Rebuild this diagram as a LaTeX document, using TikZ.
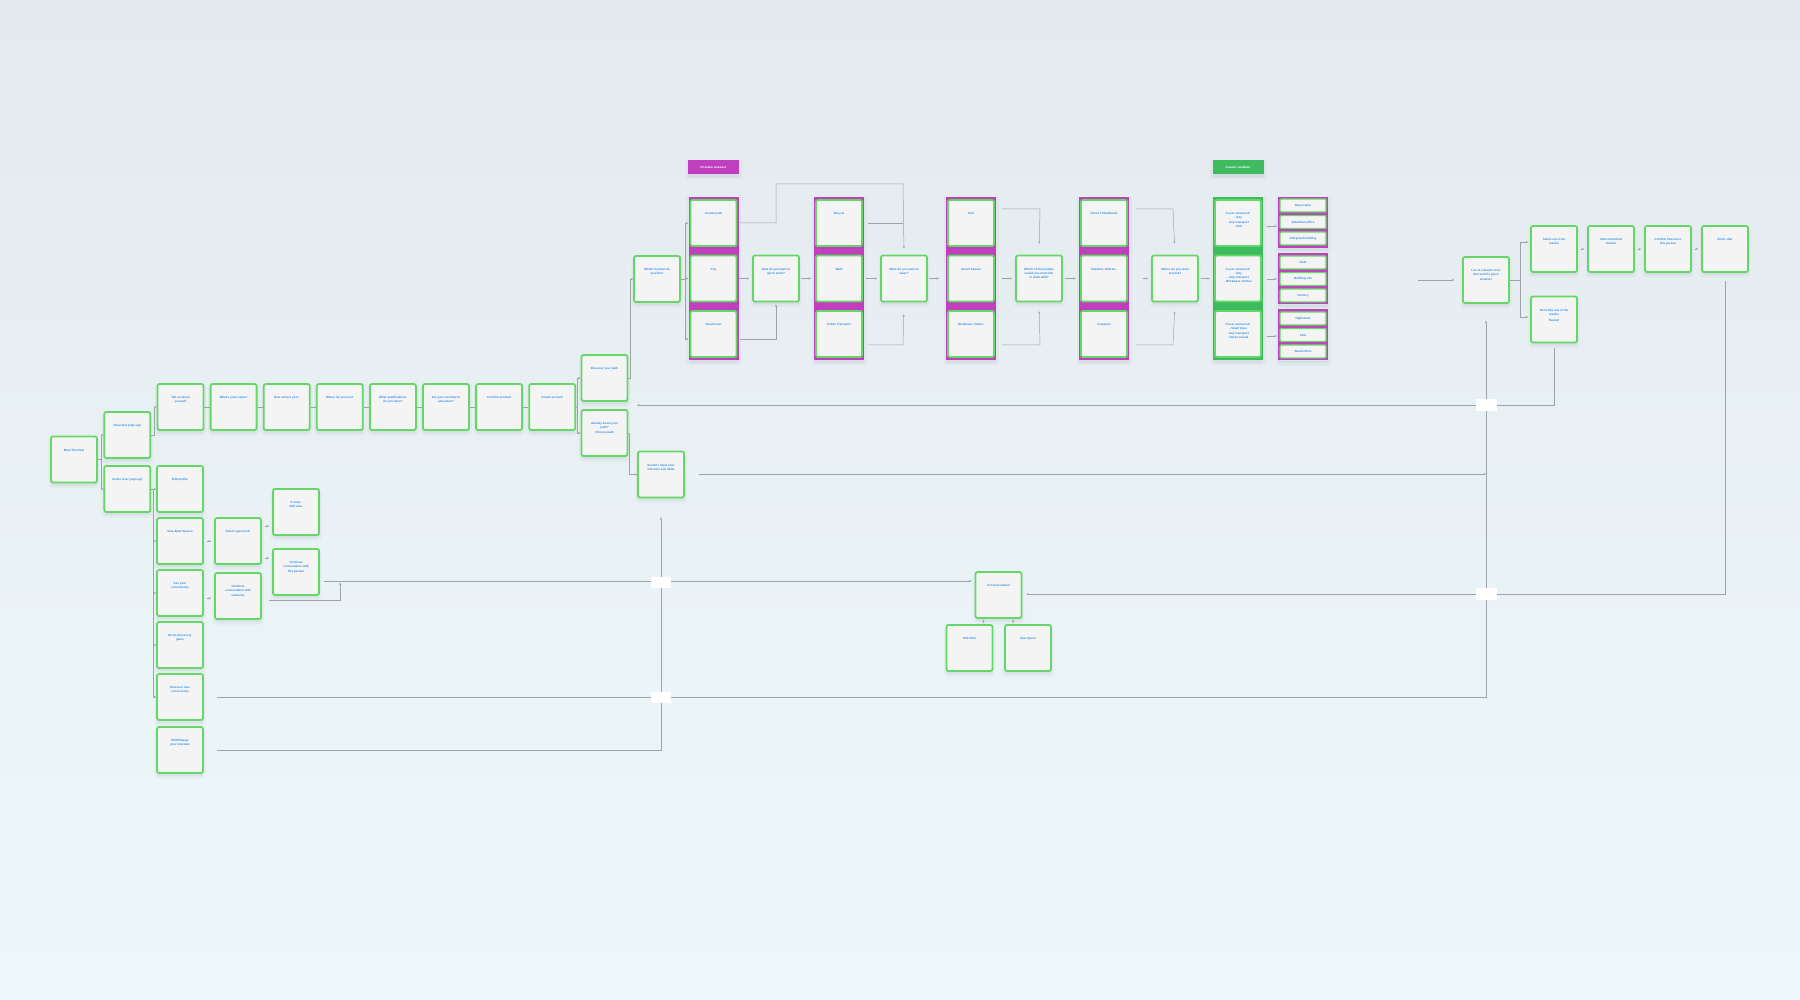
\documentclass[tikz,border=0pt]{standalone}
\usepackage{fontspec}
\setmainfont{Liberation Sans}
\usetikzlibrary{arrows.meta}
\definecolor{bgtop}{HTML}{E3EAEE}
\definecolor{bgbot}{HTML}{EEF8FA}
\definecolor{bgreen}{HTML}{64D864}
\definecolor{boxfill}{HTML}{F4F4F4}
\definecolor{tblue}{HTML}{2E8DE4}
\definecolor{mag}{HTML}{BF3FBF}
\definecolor{vgreen}{HTML}{3DBB5E}
\definecolor{lncol}{HTML}{9EA3A8}
\definecolor{shcol}{HTML}{5A6A7A}
\tikzset{
 shd/.style={preaction={draw=shcol, line width=5pt, draw opacity=0.05, fill=shcol, fill opacity=0.07,
   transform canvas={yshift=-3pt}}},
 bxbase/.style={rectangle, rounded corners=2pt, draw=bgreen, line width=1.8pt, fill=boxfill,
   minimum width=46pt, minimum height=46pt, inner sep=0pt, text=tblue,
   font=\fontsize{3}{4.2}\selectfont\bfseries},
 bx/.style={bxbase, shd},
 sbx/.style={bxbase, minimum height=13pt, rounded corners=1pt, line width=1.4pt},
 cont/.style={rectangle, inner sep=0pt, minimum width=50pt, shd},
 lnk/.style={draw=lncol, line width=0.5pt},
 arr/.style={lnk, -{Stealth[length=2.4pt,width=2.2pt]}},
 gapbox/.style={fill=white, minimum width=20pt, minimum height=11pt, inner sep=0pt},
 tagbox/.style={rectangle, inner sep=0pt, minimum width=51pt, minimum height=14pt, text=white,
   font=\fontsize{3}{4}\selectfont\bfseries, shd}
}
\newcommand\bxtext[1]{\parbox[c][44pt][t]{40pt}{\vspace*{11.5pt}\centering #1\par}}
\newcommand\mkbox[4]{\node[bx] (#1) at (#2,#3) {\bxtext{#4}};}
\newcommand\mkboxi[4]{\node[bxbase] (#1) at (#2,#3) {\bxtext{#4}};}
\begin{document}
\begin{tikzpicture}[x=1pt,y=-1pt]
\shade[top color=bgtop, bottom color=bgbot] (0,0) rectangle (1800,1000);

% ---------- left / sign up ----------
\mkbox{meet}{74}{459.5}{Meet The Beat}
\mkbox{newu}{127.3}{435}{New User (sign up)}
\mkbox{actu}{127.3}{489}{Active User (sign up)}
\mkbox{tell}{180.5}{407}{Tell us about\\yourself}
\mkbox{name}{233.6}{407}{What's your name?}
\mkbox{old}{286.7}{407}{How old are you?}
\mkbox{live}{339.8}{407}{Where do you live?}
\mkbox{qual}{392.9}{407}{What qualifications\\do you have?}
\mkbox{edu}{446}{407}{Are you currently in\\education?}
\mkbox{conf}{499.1}{407}{Confirm account}
\mkbox{create}{552.2}{407}{Create account}
\mkbox{disc}{604.5}{378}{Discover your path}
\mkbox{know}{604.5}{433}{Already know your\\path?\\Choose path}
\mkbox{search}{661}{474.5}{Search / input your\\interests and skills}

\mkbox{editp}{180}{489}{Edit profile}
\mkbox{view}{180}{541}{View Beat Spaces}
\mkbox{see}{180}{593}{See your\\connections}
\mkbox{redo}{180}{645}{Re-do discovery\\game}
\mkbox{discn}{180}{697}{Discover new\\connections}
\mkbox{editc}{180}{750}{Edit/Change\\your interests}
\mkbox{space}{238}{541}{Select space/role}
\mkbox{cont1}{238}{596}{Continue\\conversation with\\someone}
\mkbox{ifnone}{296}{512}{If none:\\Edit area}
\mkbox{cont2}{296}{572}{Continue\\conversation with\\this person}

\mkbox{inconv}{998.5}{595}{In Conversation}
\mkbox{editrole}{969.5}{648}{Edit Role}
\mkbox{newq}{1028}{648}{New Quest}

% ---------- questionnaire ----------
\node[tagbox, fill=mag] (pa) at (713.5,167) {Possible Answers};
\node[tagbox, fill=vgreen] (av) at (1238,167) {Answer variables};

\mkbox{loc}{657}{279}{Which location do\\you like?}
\node[cont, fill=mag, minimum height=163pt] (c1) at (713.5,278.5) {};
\mkboxi{country}{713.5}{223}{Countryside}
\mkboxi{city}{713.5}{278.5}{City}
\mkboxi{town}{713.5}{334}{Small town}
\mkbox{how}{776}{278.5}{How do you want to\\get to work?}
\node[cont, fill=mag, minimum height=163pt] (c2) at (839,278.5) {};
\mkboxi{bike}{839}{223}{Bicycle}
\mkboxi{walk}{839}{278.5}{Walk}
\mkboxi{pt}{839}{334}{Public Transport}
\mkbox{wear}{904}{278.5}{What do you want to\\wear?}
\node[cont, fill=mag, minimum height=163pt] (c3) at (971,278.5) {};
\mkboxi{suit}{971}{223}{Suit}
\mkboxi{smart}{971}{278.5}{Smart Casual}
\mkboxi{work}{971}{334}{Workwear clothes}
\mkbox{tasks}{1039}{278.5}{Which of these tasks\\would you most like\\to work with?}
\node[cont, fill=mag, minimum height=163pt] (c4) at (1104,278.5) {};
\mkboxi{pencil}{1104}{223}{Pencil / Paintbrush}
\mkboxi{hammer}{1104}{278.5}{Hammer, Drill etc.}
\mkboxi{comp}{1104}{334}{Computer}
\mkbox{where}{1175}{278.5}{Where do you want\\to work?}
\node[cont, fill=vgreen, minimum height=163pt] (c5) at (1238,278.5) {};
\mkboxi{va}{1238}{223}{If user answered:\\- City\\- Any transport\\- Suit}
\mkboxi{vb}{1238}{278.5}{If user answered:\\- City\\- Any transport\\- Workwear clothes}
\mkboxi{vc}{1238}{334}{If user answered:\\- Small town\\- Any transport\\- Smart casual}

\node[cont, fill=mag, minimum height=51pt] (g1) at (1303,222.5) {};
\node[sbx] (sky) at (1303,205.5) {Skyscraper};
\node[sbx] (sub) at (1303,222) {Suburban office};
\node[sbx] (old2) at (1303,238.5) {Old grand building};
\node[cont, fill=mag, minimum height=51pt] (g2) at (1303,279) {};
\node[sbx] (field) at (1303,262.5) {Field};
\node[sbx] (bsite) at (1303,279) {Building site};
\node[sbx] (fact) at (1303,295.5) {Factory};
\node[cont, fill=mag, minimum height=51pt] (g3) at (1303,335) {};
\node[sbx] (high) at (1303,318.5) {Highstreet};
\node[sbx] (cafe) at (1303,335) {Cafe};
\node[sbx] (soff) at (1303,351.5) {Small office};

\mkbox{list}{1486}{280}{List of relevant roles\\that suit the given\\answers}
\mkbox{sel}{1554}{249}{Select one from\\results}
\mkbox{mentor}{1611}{249}{Select matched\\mentor}
\mkbox{interest}{1668}{249}{Confirm interest in\\this person}
\mkbox{chat}{1725}{249}{Enter chat}
\mkbox{dont}{1554}{319.5}{Don't like any of the\\results\\[2pt]Restart}

% ---------- connectors ----------
\draw[lnk] (meet.east) -- (101,459.5) coordinate (m1);
\draw[arr] (m1) |- (newu.west);
\draw[arr] (m1) |- (actu.west);
\draw[arr] (newu.east) -- (154,435) |- (tell.west);
\draw[lnk] (actu.east) -- (153.5,489) coordinate (tr);
\foreach \n in {editp,view,see,redo,discn} \draw[arr] (tr) |- (\n.west);
\foreach \a/\b in {tell/name,name/old,old/live,live/qual,qual/edu,edu/conf,conf/create}
  \draw[lnk] (\a.east) -- (\b.west);
\draw[lnk] (create.east) -- (577.5,407) coordinate (cr);
\draw[arr] (cr) |- (disc.west);
\draw[arr] (cr) |- (know.west);
\draw[arr] (disc.east) -- (630,378) |- (loc.west);
\draw[arr] (know.east) -- (629.5,433) |- (search.west);

\draw[lnk] (loc.east) -- (685,279) coordinate (lc);
\draw[arr] (lc) |- (c1.west |- 0,223);
\draw[arr] (lc) |- (c1.west |- 0,278.5);
\draw[arr] (lc) |- (c1.west |- 0,339);
\draw[arr, shorten <=1pt, shorten >=6pt] (c1.east |- 0,223) -- (776,223) -- (776,184) -- (903,184) -- (wear.north);
\draw[arr, shorten >=3pt] (c1.east |- 0,278.5) -- (how.west);
\draw[arr, shorten <=1pt, shorten >=2pt] (c1.east |- 0,339) -- (776,339) -- (how.south);
\draw[arr, shorten <=1pt, shorten >=3pt] (how.east) -- (c2.west |- 0,278.5);
\draw[lnk, shorten <=4pt] (c2.east |- 0,223) -- (903,223);
\draw[arr, shorten <=2pt, shorten >=3pt] (c2.east |- 0,278.5) -- (wear.west);
\draw[arr, shorten <=4pt, shorten >=12pt] (c2.east |- 0,345) -- (903,345) -- (wear.south);
\draw[arr, shorten <=1pt, shorten >=7pt] (wear.east) -- (c3.west |- 0,278.5);
\draw[arr, shorten <=6pt, shorten >=11pt] (c3.east |- 0,209) -- (1040,209) -- (tasks.north);
\draw[arr, shorten <=6pt, shorten >=3pt] (c3.east |- 0,278.5) -- (tasks.west);
\draw[arr, shorten <=6pt, shorten >=9pt] (c3.east |- 0,345) -- (1040,345) -- (tasks.south);
\draw[arr, shorten <=2pt, shorten >=3pt] (tasks.east) -- (c4.west |- 0,278.5);
\draw[arr, shorten <=7pt, shorten >=11pt] (c4.east |- 0,209) -- (1173,209) -- (where.north);
\draw[arr, shorten <=14pt, shorten >=3pt] (c4.east |- 0,278.5) -- (where.west);
\draw[arr, shorten <=7pt, shorten >=9pt] (c4.east |- 0,345) -- (1173,345) -- (where.south);
\draw[arr, shorten <=2pt, shorten >=3pt] (where.east) -- (c5.west |- 0,278.5);
\draw[arr, shorten <=4pt, shorten >=1pt] (c5.east |- 0,226) -- (g1.west |- 0,226);
\draw[arr, shorten <=4pt, shorten >=1pt] (c5.east |- 0,279) -- (g2.west |- 0,279);
\draw[arr, shorten <=4pt, shorten >=1pt] (c5.east |- 0,336) -- (g3.west |- 0,336);

\coordinate (fl) at (1418,280);
\draw[arr, shorten >=8pt] (fl) -- (list.west);
\draw[lnk] (list.east) -- (1520,280) coordinate (ls);
\draw[arr, shorten >=2pt] (ls) |- (sel.west |- 0,242);
\draw[arr, shorten >=2pt] (ls) |- (dont.west |- 0,317);
\draw[arr, shorten <=3pt, shorten >=3pt] (sel.east) -- (mentor.west);
\draw[arr, shorten <=3pt, shorten >=3pt] (mentor.east) -- (interest.west);
\draw[arr, shorten <=3pt, shorten >=3pt] (interest.east) -- (chat.west);

\draw[arr, shorten <=8pt, shorten >=4pt] (chat.south) -- (1725,594) -- (inconv.east |- 0,594);
\coordinate (rs) at (637,405);
\draw[arr, shorten <=5pt] (dont.south) -- (1554,405) -- (rs);
\coordinate (sj) at (1486,474);
\draw[arr, shorten <=14pt] (search.east |- 0,474) -- (sj);
\draw[arr, shorten <=13pt, shorten >=17pt] (discn.east) -- (1486,697) -- (list.south);
\draw[arr, shorten <=13pt, shorten >=19pt] (editc.east) -- (661,750) -- (search.south);
\draw[arr, shorten <=4pt, shorten >=3pt] (cont2.east |- 0,581) -- (inconv.west |- 0,581);
\draw[arr, shorten <=7pt] (cont1.east |- 0,600) -- (340,600) -- (340,582.5);
\draw[arr, shorten <=3pt, shorten >=3pt] (view.east) -- (space.west);
\draw[arr, shorten <=3pt, shorten >=3pt] (space.east |- 0,526) -- (ifnone.west |- 0,526);
\draw[arr, shorten <=3pt, shorten >=3pt] (space.east |- 0,558) -- (cont2.west |- 0,558);
\draw[arr, shorten <=3pt, shorten >=3pt] (see.east |- 0,598) -- (cont1.west |- 0,598);
\draw[arr, shorten <=1pt, shorten >=1pt] ([xshift=-15pt]inconv.south) -- ([xshift=-15pt]inconv.south |- editrole.north);
\draw[arr, shorten <=1pt, shorten >=1pt] ([xshift=14.5pt]inconv.south) -- ([xshift=14.5pt]inconv.south |- newq.north);

% line-crossing gaps
\node[gapbox] (x1) at (661,582) {};
\node[gapbox] (x2) at (661,697) {};
\node[gapbox, minimum width=21pt, minimum height=12pt] (x3) at (1486,405) {};
\node[gapbox, minimum width=21pt, minimum height=12pt] (x4) at (1486,594) {};
\end{tikzpicture}
\end{document}
